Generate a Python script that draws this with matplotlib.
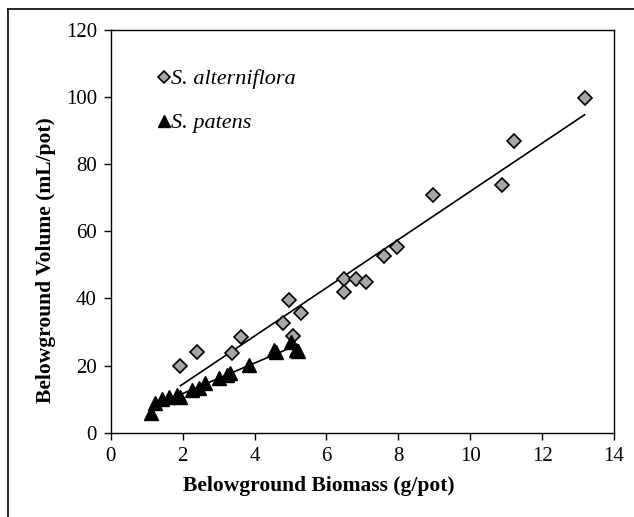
import numpy as np
import matplotlib
matplotlib.use("Agg")
import matplotlib.pyplot as plt
from matplotlib.lines import Line2D

plt.rcParams['font.family'] = ['Liberation Serif', 'DejaVu Serif']

# S. alterniflora: biomass (g/pot) vs volume (mL/pot)
alt_biomass = [1.94, 2.40, 3.38, 3.63, 4.78, 4.96, 5.06, 5.29, 6.48, 6.50,
               6.82, 7.10, 7.61, 7.97, 8.97, 10.89, 11.23, 13.18]
alt_volume = [19.9, 23.9, 23.7, 28.4, 32.8, 39.4, 28.7, 35.8, 45.7, 42.0,
              45.7, 45.0, 52.5, 55.3, 70.8, 73.8, 87.0, 99.6]

# S. patens
pat_biomass = [1.12, 1.24, 1.42, 1.61, 1.84, 1.94, 2.26, 2.45, 2.63, 3.00,
               3.24, 3.33, 3.84, 4.54, 4.60, 5.01, 5.15, 5.20]
pat_volume = [5.8, 8.75, 9.9, 10.7, 11.2, 10.7, 12.7, 13.2, 14.7, 16.2,
              17.2, 17.7, 20.1, 24.6, 24.0, 27.1, 24.6, 24.2]

x_ticks = [0, 2, 4, 6, 8, 10, 12, 14]
y_ticks = [0, 20, 40, 60, 80, 100, 120]

fig = plt.figure(figsize=(6.34, 5.17), dpi=100)
ax = fig.add_axes([0.1746, 0.1631, 0.7939, 0.7789])

# linear trend lines
for xs, ys in [(alt_biomass, alt_volume), (pat_biomass, pat_volume)]:
    b, a = np.polyfit(xs, ys, 1)
    xr = np.array([min(xs), max(xs)])
    ax.plot(xr, a + b * xr, color='black', lw=1.2, zorder=2)

ax.plot(alt_biomass, alt_volume, linestyle='none', marker='D', ms=7,
        mfc='#a6a6a6', mec='black', mew=1.2, zorder=3, label='S. alterniflora')
ax.plot(pat_biomass, pat_volume, linestyle='none', marker='^', ms=10.5,
        mfc='black', mec='black', zorder=4, label='S. patens')

ax.set_xlim(0, 14)
ax.set_ylim(0, 120)
ax.set_xticks(x_ticks)
ax.set_yticks(y_ticks)
ax.tick_params(direction='out', length=5, width=1, labelsize=15, pad=5)
for s in ax.spines.values():
    s.set_linewidth(1)

ax.set_xlabel('Belowground Biomass (g/pot)', fontsize=15.5, fontweight='bold')
ax.set_ylabel('Belowground Volume (mL/pot)', fontsize=15.5, fontweight='bold')
ax.xaxis.set_label_coords(0.414, -0.107)
ax.yaxis.set_label_coords(-0.109, 0.429)

leg = ax.legend(loc='upper left', bbox_to_anchor=(0.052, 0.953), frameon=False,
                markerscale=0.85, handlelength=0.6, handletextpad=0.05,
                labelspacing=1.05, borderpad=0.4,
                prop={'style': 'italic', 'size': 16})

# outer frame around the figure
fig.add_artist(Line2D([8 / 634, 8 / 634], [0, 1 - 9 / 517], color='black', lw=1.2))
fig.add_artist(Line2D([8 / 634, 1], [1 - 9 / 517, 1 - 9 / 517], color='black', lw=1.2))

fig.savefig('out.png', dpi=100)
